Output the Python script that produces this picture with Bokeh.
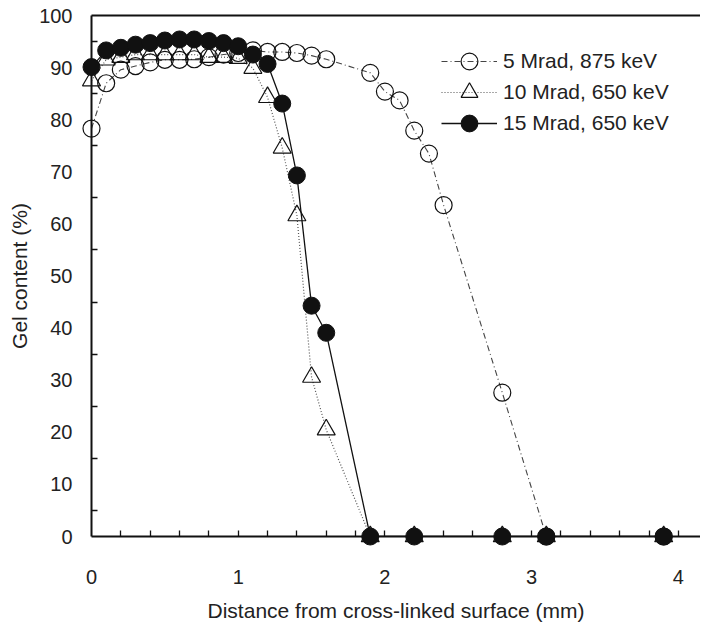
from bokeh.plotting import figure
from bokeh.models import (Range1d, FixedTicker, LinearAxis, Legend, LegendItem)
from bokeh.embed import file_html
from bokeh.resources import INLINE

# ---- data ----
x_5mrad = [0.0, 0.1, 0.2, 0.3, 0.4, 0.5, 0.6, 0.7, 0.8, 0.9, 1.0, 1.1, 1.2, 1.3,
           1.4, 1.5, 1.6, 1.9, 2.0, 2.1, 2.2, 2.3, 2.4, 2.8, 3.1, 3.9]
y_5mrad = [78.3, 87.0, 89.6, 90.3, 91.0, 91.5, 91.5, 91.6, 92.0, 92.5, 92.8, 93.3,
           93.0, 93.0, 92.8, 92.3, 91.6, 89.0, 85.4, 83.7, 77.9, 73.5, 63.6, 27.6,
           0.0, 0.0]

x_10mrad = [0.0, 0.1, 0.2, 0.3, 0.4, 0.5, 0.6, 0.7, 0.8, 0.9, 1.0, 1.1, 1.2, 1.3,
            1.4, 1.5, 1.6, 1.9, 2.2, 2.8, 3.1, 3.9]
y_10mrad = [87.5, 91.5, 92.0, 92.5, 92.5, 92.5, 92.5, 92.5, 92.0, 92.0, 91.8, 89.9,
            84.3, 74.6, 61.6, 30.6, 20.5, 0.0, 0.0, 0.0, 0.0, 0.0]

x_15mrad = [0.0, 0.1, 0.2, 0.3, 0.4, 0.5, 0.6, 0.7, 0.8, 0.9, 1.0, 1.1, 1.2, 1.3,
            1.4, 1.5, 1.6, 1.9, 2.2, 2.8, 3.1, 3.9]
y_15mrad = [90.1, 93.3, 93.8, 94.4, 94.7, 95.2, 95.4, 95.4, 95.1, 94.7, 94.1, 92.5,
            90.7, 83.1, 69.3, 44.3, 39.1, 0.0, 0.0, 0.0, 0.0, 0.0]

labels = ["5 Mrad, 875 keV", "10 Mrad, 650 keV", "15 Mrad, 650 keV"]
x_ticks = [0, 1, 2, 3, 4]
x_minor = [round(0.2 * i, 1) for i in range(1, 21)]
y_ticks = list(range(0, 101, 10))
y_minor = list(range(5, 100, 10))

FONT = "Liberation Sans"
TXT = "#222222"

p = figure(width=700, height=624, output_backend="svg", toolbar_location=None,
           x_range=Range1d(0, 4.151), y_range=Range1d(0, 100),
           min_border_left=91, min_border_right=0, min_border_top=15,
           min_border_bottom=87, x_axis_label="Distance from cross-linked surface (mm)",
           y_axis_label="Gel content (%)")
p.outline_line_color = None
p.grid.visible = False
p.background_fill_color = "white"

for ax in (p.xaxis[0], p.yaxis[0]):
    ax.axis_line_color = "#111111"
    ax.axis_line_width = 2
    ax.major_tick_out = 0
    ax.major_tick_in = 0
    ax.minor_tick_out = 0
    ax.minor_tick_in = 6
    ax.minor_tick_line_color = "#111111"
    ax.minor_tick_line_width = 1.3
    ax.major_label_text_font = FONT
    ax.major_label_text_font_size = "20px"
    ax.major_label_text_color = TXT
    ax.axis_label_text_font = FONT
    ax.axis_label_text_font_size = "21px"
    ax.axis_label_text_font_style = "normal"
    ax.axis_label_text_color = TXT

p.xaxis[0].ticker = FixedTicker(ticks=x_ticks, minor_ticks=x_minor)
p.yaxis[0].ticker = FixedTicker(ticks=y_ticks, minor_ticks=y_minor)
p.xaxis[0].major_label_standoff = 33
p.xaxis[0].axis_label_standoff = 12
p.yaxis[0].major_label_standoff = 19
p.yaxis[0].axis_label_standoff = 5

top = LinearAxis(ticker=FixedTicker(ticks=[]), axis_line_color="#111111",
                 axis_line_width=2, major_tick_in=0, major_tick_out=0,
                 minor_tick_in=0, minor_tick_out=0, major_label_text_font_size="0px",
                 major_label_standoff=0)
p.add_layout(top, "above")

# 10 Mrad : dotted line, open triangles
l_b = p.line(x_10mrad, y_10mrad, line_color="#555555", line_width=1.2, line_dash="1 2")
s_b = p.scatter(x_10mrad, y_10mrad, marker="triangle", size=18, fill_color=None,
                line_color="#111111", line_width=1.2, level="overlay")
# 5 Mrad : dash-dot line, open circles
l_a = p.line(x_5mrad, y_5mrad, line_color="#444444", line_width=1.1, line_dash="6 3 1 3")
s_a = p.scatter(x_5mrad, y_5mrad, marker="circle", size=17, fill_color=None,
                line_color="#111111", line_width=1.2, level="overlay")
# 15 Mrad : solid line, filled circles
l_c = p.line(x_15mrad, y_15mrad, line_color="#111111", line_width=1.3)
s_c = p.scatter(x_15mrad, y_15mrad, marker="circle", size=17, fill_color="#111111",
                line_color="#111111", line_width=1, level="overlay")

entries = [(labels[0], [l_a, s_a], 454), (labels[1], [l_b, s_b], 423),
           (labels[2], [l_c, s_c], 392)]
for lab, rends, ypos in entries:
    lg = Legend(items=[LegendItem(label=lab, renderers=rends)],
                location=(350, ypos), padding=0, margin=0, spacing=0,
                glyph_width=56, glyph_height=42, label_standoff=6,
                label_text_font=FONT, label_text_font_size="21px",
                label_text_color=TXT, border_line_color=None,
                background_fill_alpha=0)
    p.add_layout(lg)

open("out.html", "w").write(file_html(p, INLINE))
